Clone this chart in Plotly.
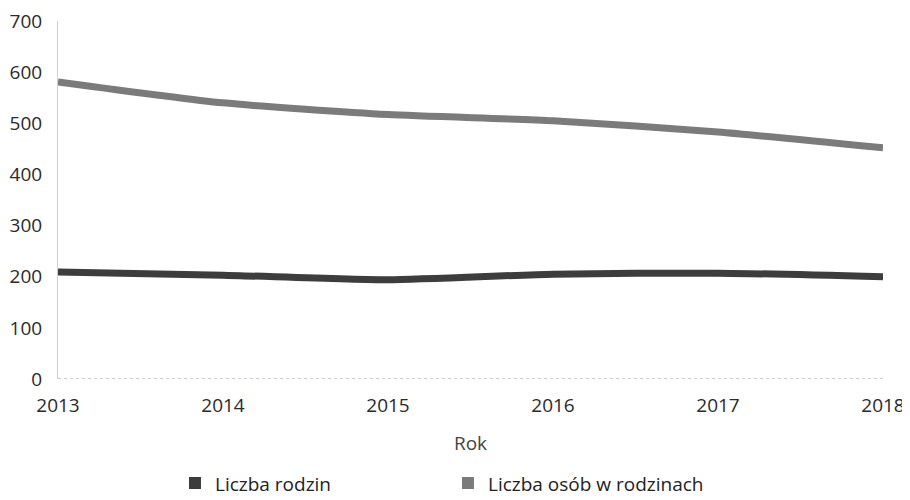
import plotly.graph_objects as go

# data
years = [2013, 2014, 2015, 2016, 2017, 2018]
liczba_rodzin = [209, 203, 194, 205, 207, 200]
liczba_osob = [581, 540, 517, 505, 483, 452]
y_ticks = [0, 100, 200, 300, 400, 500, 600, 700]

dark = "#3d3d3d"
light = "#7b7b7b"

fig = go.Figure()

# the lines themselves (legend shown via square markers below)
fig.add_trace(go.Scatter(x=years, y=liczba_rodzin, mode="lines", showlegend=False,
                         line=dict(color=dark, width=7, shape="spline", smoothing=0.6)))
fig.add_trace(go.Scatter(x=years, y=liczba_osob, mode="lines", showlegend=False,
                         line=dict(color=light, width=7, shape="spline", smoothing=0.6)))

# legend entries with square swatches
fig.add_trace(go.Scatter(x=[None], y=[None], mode="markers", name="Liczba rodzin",
                         marker=dict(symbol="square", size=12, color=dark)))
fig.add_trace(go.Scatter(x=[None], y=[None], mode="markers", name="Liczba osób w rodzinach",
                         marker=dict(symbol="square", size=12, color=light)))

# page body has an 8px margin, so the figure is a bit smaller than the window
fig.update_layout(
    width=902, height=492,
    margin=dict(l=50, r=27, t=13, b=121),
    paper_bgcolor="white", plot_bgcolor="white",
    font=dict(family="Open Sans", size=19, color="#2a2a2a"),
    xaxis=dict(
        range=[2013, 2018], tickvals=years, showgrid=False, zeroline=False,
        showline=False, ticks="", ticklabelstandoff=13, automargin=False,
        ticklabeloverflow="allow",
        title=dict(text="Rok", font=dict(size=19, color="#444"), standoff=19),
    ),
    yaxis=dict(
        range=[0, 700], tickvals=y_ticks, showgrid=False, zeroline=False,
        showline=True, linecolor="#d0d0d0", linewidth=1, ticks="",
        ticklabelstandoff=11, automargin=False, ticklabeloverflow="allow",
    ),
    legend=dict(orientation="h", x=0.1418, xanchor="left",
                yref="container", y=0.034, yanchor="middle",
                entrywidth=228, font=dict(size=19, color="#222"),
                itemsizing="constant"),
    showlegend=True,
)

# dotted baseline at y = 0
fig.add_shape(type="line", xref="x", yref="y", x0=2013, x1=2018, y0=0, y1=0,
              line=dict(color="#9a9a9a", width=1, dash="dot"))

fig.write_html("out.html")
